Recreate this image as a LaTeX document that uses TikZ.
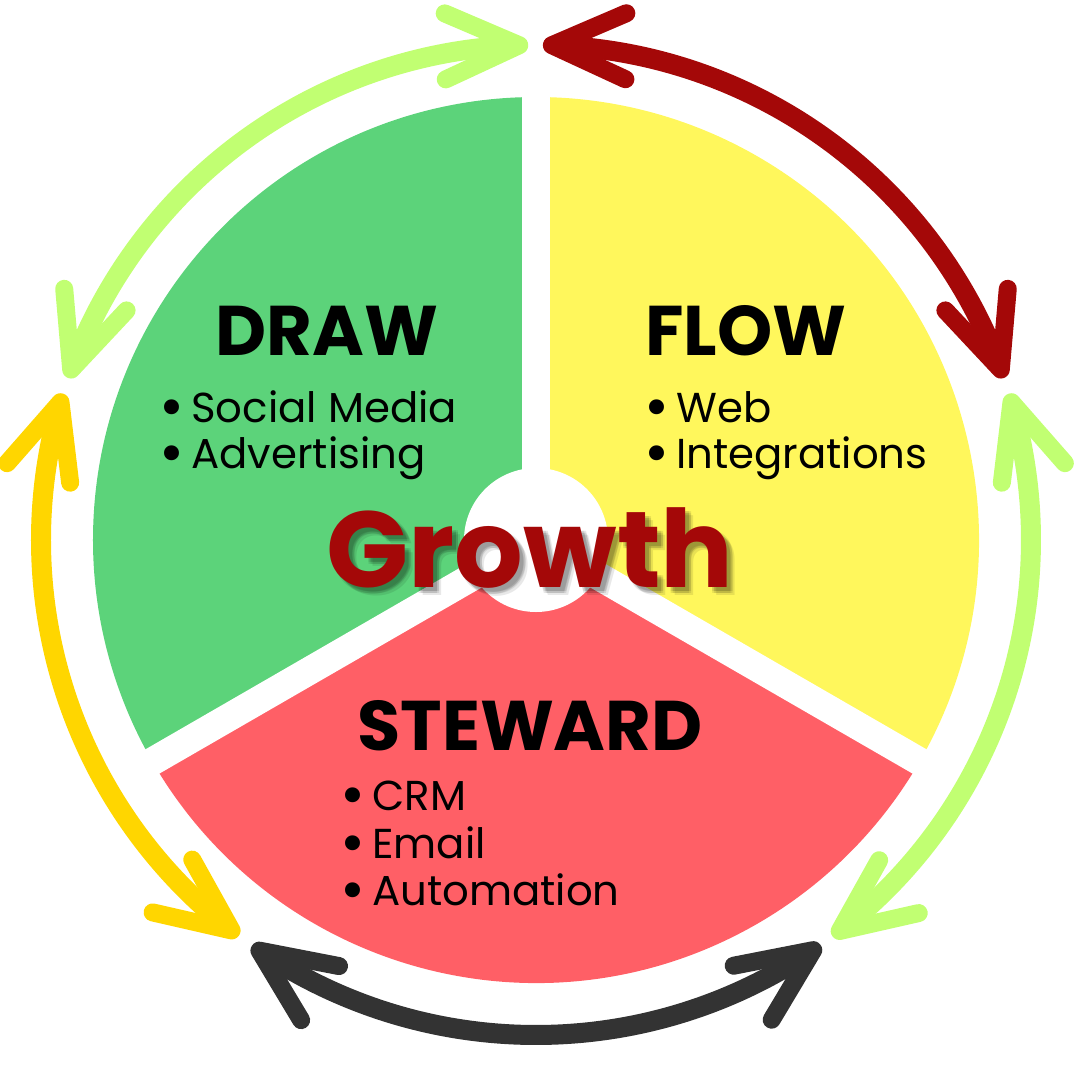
\documentclass[tikz,border=0pt]{standalone}
\usepackage{fontspec}
\setmainfont{Poppins}
\usepackage{xcolor}
\usepackage{graphicx}
\usepackage{tikz}
\usetikzlibrary{arrows.meta, bending}
\definecolor{drawgreen}{HTML}{5CD37A}
\definecolor{flowyellow}{HTML}{FFF75C}
\definecolor{stewardred}{HTML}{FF5F66}
\definecolor{limegreen}{HTML}{C1FF72}
\definecolor{deepred}{HTML}{A40808}
\definecolor{goldyellow}{HTML}{FFD600}
\definecolor{darkgrey}{HTML}{333333}
\newcommand{\listdot}{\raisebox{-1.6pt}{\scalebox{1.45}{\textbullet}}\hspace{0.16em}}
\tikzset{every node/.append style={font=\rmfamily}}
\tikzset{
  sectorhead/.style={font=\bfseries\fontsize{20}{24}\selectfont, anchor=base, inner sep=0pt},
  bulletitem/.style={font=\fontsize{11.9}{14}\selectfont, anchor=base west, inner sep=0pt},
  growthtext/.style={font=\bfseries\fontsize{30.7}{36}\selectfont, anchor=base, inner sep=0pt},
  cyclearrow/.style={line width=2mm, line cap=round, <->},
}

\begin{document}
\begin{tikzpicture}[x=0.1mm, y=0.1mm, >={Straight Barb[round, line width=1.8mm, length=7.4mm, width=6.6mm]}]
    \useasboundingbox (-536,-540) rectangle (544,540);

    % Three sectors of the wheel
    \fill[drawgreen] (0,0) -- (90:443) arc[start angle=90, end angle=210, radius=443] -- cycle;
    \fill[flowyellow] (0,0) -- (-30:443) arc[start angle=-30, end angle=90, radius=443] -- cycle;
    \fill[stewardred] (0,0) -- (210:443) arc[start angle=210, end angle=330, radius=443] -- cycle;

    % White gaps and hub
    \foreach \a in {90, 210, 330}
        \draw[white, line width=2.8mm] (0,0) -- (\a:460);
    \fill[white] (0,0) circle (72);

    % Cycle arrows round the wheel
    \draw[cyclearrow, limegreen] (160.9:495) arc[start angle=160.9, end angle=90.9, radius=495];
    \draw[cyclearrow, deepred] (89.2:495) arc[start angle=89.2, end angle=19.1, radius=495];
    \draw[cyclearrow, goldyellow] (162.8:495) arc[start angle=162.8, end angle=233.1, radius=495];
    \draw[cyclearrow, limegreen] (17.2:495) arc[start angle=17.2, end angle=-53.2, radius=495];
    \draw[cyclearrow, darkgrey] (235:495) arc[start angle=235, end angle=305.1, radius=495];

    % Sector titles
    \node[sectorhead] (draw) at (-209,185) {DRAW};
    \node[sectorhead] (flow) at (210,185) {FLOW};
    \node[sectorhead] (steward) at (-6,-210) {STEWARD};

    % Bullet lists
    \node[bulletitem] (social) at (-377,118) {\listdot Social Media};
    \node[bulletitem] (advert) at (-377,72) {\listdot Advertising};
    \node[bulletitem] (web) at (108,118) {\listdot Web};
    \node[bulletitem] (integ) at (108,72) {\listdot Integrations};
    \node[bulletitem] (crm) at (-196,-270) {\listdot CRM};
    \node[bulletitem] (email) at (-196,-318) {\listdot Email};
    \node[bulletitem] (autom) at (-196,-365) {\listdot Automation};

    % Centre word with soft shadow
    \foreach \dx/\dy [count=\i] in {4/-4, 6/-6, 8/-8, 6/-4, 4/-6}
        \node[growthtext, text=black, opacity=0.09] (growthshadow\i) at (-6+\dx,-47+\dy) {Growth};
    \node[growthtext, text=deepred] (growth) at (-6,-47) {Growth};
\end{tikzpicture}
\end{document}
